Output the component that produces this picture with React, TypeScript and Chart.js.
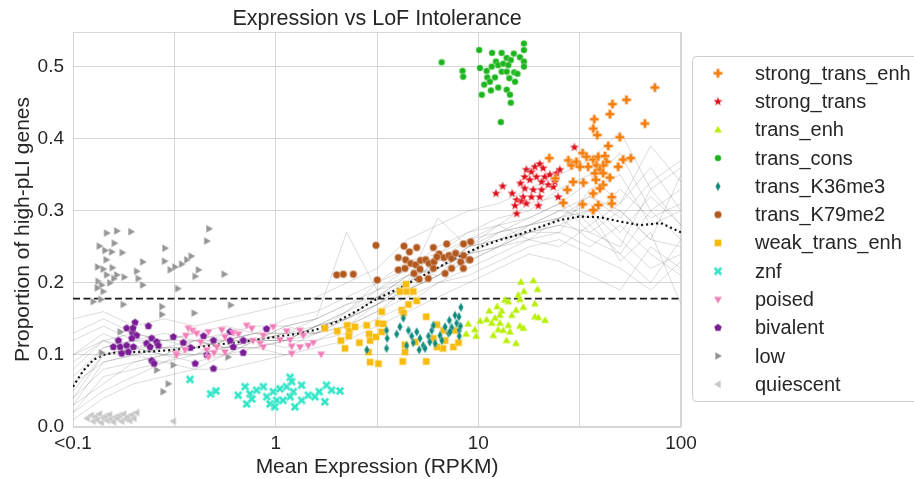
import React, { useEffect, useRef } from "react";
import { Chart, registerables } from "chart.js";
Chart.register(...registerables);

const FONT = '"Liberation Sans", Arial, Helvetica, sans-serif';
const TEXT = "#262626";
const GRID = "#d6d6d6";

const titleText = "Expression vs LoF Intolerance";
const xTitle = "Mean Expression (RPKM)";
const yTitle = "Proportion of high-pLI genes";

// x axis is log10(RPKM)
const xTickValues = [-1, 0, 1, 2];
const xTickLabels = ["<0.1", "1", "10", "100"];

const categories = [
  "strong_trans_enh", "strong_trans", "trans_enh", "trans_cons", "trans_K36me3", "trans_K79me2",
  "weak_trans_enh", "znf", "poised", "bivalent", "low", "quiescent",
];
const colors = [
  "#f47d0c", "#e0101c", "#b7ef00", "#1cb41c", "#108a7c", "#b0581e",
  "#f6bb0c", "#35e5c8", "#f27db6", "#7a1c95", "#959595", "#c6c6c6",
];
const shapes = [
  "plus", "star", "triUp", "circleS", "diamond", "circle",
  "square", "x", "triDown", "pentagon", "triRight", "triLeft",
];

const strongTransEnh: [number, number][] = [
  [1.871, 0.471], [1.731, 0.454], [1.662, 0.448], [1.649, 0.434], [1.572, 0.427], [1.567, 0.414],
  [1.587, 0.405], [1.822, 0.421], [1.698, 0.402], [1.641, 0.390], [1.350, 0.373], [1.444, 0.370],
  [1.460, 0.363], [1.484, 0.368], [1.514, 0.380], [1.534, 0.375], [1.567, 0.371], [1.592, 0.375],
  [1.625, 0.376], [1.633, 0.368], [1.616, 0.363], [1.583, 0.363], [1.542, 0.361], [1.501, 0.361],
  [1.715, 0.371], [1.752, 0.373], [1.690, 0.361], [1.600, 0.357], [1.575, 0.352], [1.616, 0.352],
  [1.649, 0.346], [1.580, 0.343], [1.616, 0.336], [1.468, 0.340], [1.518, 0.339], [1.439, 0.329],
  [1.567, 0.324], [1.600, 0.331], [1.658, 0.319], [1.658, 0.310], [1.419, 0.311], [1.514, 0.309],
  [1.567, 0.301], [1.592, 0.308], [1.380, 0.345],
];
const strongTrans: [number, number][] = [
  [1.474, 0.388], [1.087, 0.324], [1.120, 0.334], [1.167, 0.324], [1.189, 0.315], [1.181, 0.307],
  [1.189, 0.296], [1.208, 0.338], [1.229, 0.347], [1.237, 0.357], [1.262, 0.354], [1.279, 0.361],
  [1.303, 0.365], [1.320, 0.359], [1.287, 0.347], [1.328, 0.347], [1.254, 0.343], [1.312, 0.340],
  [1.345, 0.336], [1.370, 0.333], [1.353, 0.350], [1.386, 0.352], [1.402, 0.357], [1.229, 0.331],
  [1.271, 0.329], [1.312, 0.329], [1.221, 0.319], [1.262, 0.319], [1.303, 0.319], [1.213, 0.313],
  [1.237, 0.310], [1.296, 0.307], [1.394, 0.319], [1.378, 0.340],
];
const transEnh: [number, number][] = [
  [1.210, 0.201], [1.271, 0.203], [1.292, 0.191], [1.225, 0.188], [1.197, 0.183], [1.131, 0.176],
  [1.148, 0.174], [1.205, 0.177], [1.279, 0.171], [1.093, 0.167], [1.054, 0.161], [1.115, 0.161],
  [1.186, 0.162], [1.222, 0.166], [1.165, 0.155], [1.107, 0.155], [1.082, 0.151], [1.041, 0.149],
  [1.009, 0.147], [1.066, 0.144], [1.107, 0.144], [1.148, 0.141], [1.205, 0.140], [1.222, 0.137],
  [1.279, 0.153], [1.296, 0.152], [1.329, 0.148], [0.950, 0.143], [0.983, 0.135], [1.098, 0.135],
  [1.123, 0.134], [1.156, 0.132], [0.940, 0.129], [0.989, 0.126], [1.139, 0.120], [1.186, 0.116],
  [1.074, 0.127],
];
const transCons: [number, number][] = [
  [0.819, 0.506], [0.922, 0.494], [0.925, 0.486], [1.004, 0.523], [1.068, 0.519], [1.115, 0.519],
  [1.175, 0.518], [1.225, 0.532], [1.225, 0.523], [1.205, 0.513], [1.225, 0.507], [1.225, 0.500],
  [1.008, 0.498], [1.041, 0.494], [1.066, 0.500], [1.087, 0.507], [1.098, 0.502], [1.123, 0.504],
  [1.140, 0.512], [1.160, 0.509], [1.148, 0.502], [1.115, 0.493], [1.140, 0.493], [1.177, 0.492],
  [1.193, 0.490], [1.044, 0.485], [1.082, 0.485], [1.153, 0.484], [1.181, 0.479], [1.057, 0.479],
  [1.029, 0.475], [1.098, 0.471], [1.062, 0.467], [1.140, 0.468], [1.017, 0.461], [1.156, 0.461],
  [1.160, 0.450], [1.111, 0.423],
];
const transK36me3: [number, number][] = [
  [0.547, 0.134], [0.550, 0.123], [0.597, 0.129], [0.613, 0.139], [0.630, 0.151], [0.655, 0.134],
  [0.671, 0.126], [0.679, 0.117], [0.696, 0.132], [0.712, 0.123], [0.728, 0.113], [0.737, 0.109],
  [0.754, 0.126], [0.770, 0.134], [0.778, 0.141], [0.787, 0.116], [0.811, 0.127], [0.836, 0.139],
  [0.853, 0.130], [0.857, 0.148], [0.885, 0.155], [0.893, 0.144], [0.906, 0.134], [0.914, 0.166],
  [0.646, 0.113], [0.708, 0.107], [0.547, 0.109], [0.450, 0.107], [0.904, 0.153], [0.912, 0.140],
  [0.868, 0.138], [0.860, 0.132], [0.906, 0.126], [0.820, 0.120], [0.760, 0.118],
];
const transK79me2: [number, number][] = [
  [0.301, 0.211], [0.334, 0.212], [0.383, 0.212], [0.495, 0.252], [0.501, 0.204], [0.633, 0.251],
  [0.696, 0.249], [0.778, 0.249], [0.844, 0.254], [0.927, 0.254], [0.962, 0.257], [0.605, 0.235],
  [0.641, 0.232], [0.666, 0.227], [0.691, 0.225], [0.715, 0.231], [0.740, 0.232], [0.756, 0.227],
  [0.781, 0.229], [0.806, 0.240], [0.830, 0.235], [0.855, 0.238], [0.868, 0.234], [0.888, 0.241],
  [0.913, 0.229], [0.954, 0.232], [0.605, 0.218], [0.638, 0.220], [0.682, 0.213], [0.708, 0.205],
  [0.753, 0.206], [0.712, 0.219], [0.778, 0.220], [0.836, 0.213], [0.868, 0.220], [0.795, 0.236],
  [0.927, 0.238], [0.959, 0.232], [0.926, 0.220], [0.660, 0.243],
];
const weakTransEnh: [number, number][] = [
  [0.243, 0.137], [0.304, 0.133], [0.322, 0.120], [0.342, 0.109], [0.353, 0.141], [0.363, 0.133],
  [0.391, 0.139], [0.413, 0.117], [0.449, 0.141], [0.461, 0.129], [0.466, 0.120], [0.458, 0.104],
  [0.466, 0.090], [0.495, 0.125], [0.507, 0.088], [0.507, 0.144], [0.531, 0.143], [0.523, 0.160],
  [0.523, 0.132], [0.622, 0.162], [0.631, 0.158], [0.655, 0.170], [0.696, 0.175], [0.613, 0.188],
  [0.646, 0.188], [0.679, 0.188], [0.643, 0.198], [0.743, 0.153], [0.627, 0.091], [0.743, 0.091],
  [0.638, 0.114], [0.688, 0.118], [0.778, 0.123], [0.828, 0.134], [0.836, 0.120], [0.825, 0.109],
  [0.795, 0.111], [0.877, 0.111], [0.902, 0.117], [0.795, 0.142], [0.884, 0.134], [0.638, 0.104],
  [0.360, 0.126],
];
const znf: [number, number][] = [
  [-0.423, 0.066], [-0.321, 0.046], [-0.295, 0.050], [-0.185, 0.044], [-0.151, 0.056], [-0.143, 0.032],
  [-0.127, 0.046], [-0.118, 0.039], [-0.061, 0.056], [-0.044, 0.042], [-0.028, 0.032], [-0.012, 0.049],
  [0.005, 0.037], [0.021, 0.053], [0.054, 0.056], [0.071, 0.069], [0.079, 0.063], [0.087, 0.049],
  [0.095, 0.028], [0.071, 0.042], [0.128, 0.037], [0.128, 0.058], [0.161, 0.044], [0.194, 0.042],
  [0.215, 0.049], [0.243, 0.035], [0.251, 0.058], [0.276, 0.051], [0.317, 0.050], [-0.094, 0.051],
  [-0.005, 0.028], [0.036, 0.037],
];
const poised: [number, number][] = [
  [-0.431, 0.137], [-0.410, 0.134], [-0.443, 0.127], [-0.390, 0.130], [-0.332, 0.132], [-0.266, 0.135],
  [-0.250, 0.125], [-0.209, 0.131], [-0.184, 0.129], [-0.143, 0.141], [-0.118, 0.137], [-0.492, 0.102],
  [-0.447, 0.107], [-0.340, 0.107], [-0.304, 0.103], [-0.250, 0.104], [-0.332, 0.097], [-0.291, 0.111],
  [-0.077, 0.116], [-0.061, 0.111], [-0.012, 0.139], [-0.061, 0.127], [0.021, 0.121], [0.071, 0.121],
  [0.120, 0.134], [0.136, 0.127], [0.079, 0.112], [0.120, 0.111], [0.079, 0.102], [0.161, 0.113],
  [0.186, 0.117], [0.224, 0.101], [-0.112, 0.120], [0.054, 0.133], [-0.489, 0.100], [-0.370, 0.118],
];
const bivalent: [number, number][] = [
  [-0.694, 0.145], [-0.735, 0.137], [-0.628, 0.140], [-0.707, 0.131], [-0.686, 0.127], [-0.776, 0.120],
  [-0.710, 0.123], [-0.801, 0.111], [-0.767, 0.111], [-0.735, 0.113], [-0.702, 0.111], [-0.760, 0.102],
  [-0.727, 0.104], [-0.637, 0.116], [-0.612, 0.123], [-0.587, 0.118], [-0.620, 0.111], [-0.579, 0.113],
  [-0.612, 0.092], [-0.505, 0.125], [-0.456, 0.117], [-0.397, 0.088], [-0.356, 0.126], [-0.340, 0.100],
  [-0.307, 0.081], [-0.307, 0.120], [-0.225, 0.132], [-0.209, 0.111], [-0.160, 0.103], [-0.160, 0.120],
  [-0.045, 0.136], [-0.225, 0.120], [-0.704, 0.137], [-0.600, 0.088], [-0.420, 0.110],
];
const low: [number, number][] = [
  [-0.834, 0.269], [-0.784, 0.272], [-0.714, 0.271], [-0.870, 0.251], [-0.842, 0.245], [-0.796, 0.255],
  [-0.809, 0.243], [-0.757, 0.242], [-0.836, 0.232], [-0.878, 0.222], [-0.851, 0.219], [-0.806, 0.221],
  [-0.834, 0.211], [-0.784, 0.211], [-0.747, 0.208], [-0.798, 0.206], [-0.876, 0.202], [-0.818, 0.200],
  [-0.859, 0.197], [-0.880, 0.193], [-0.851, 0.188], [-0.900, 0.174], [-0.862, 0.177], [-0.656, 0.229],
  [-0.686, 0.216], [-0.678, 0.206], [-0.656, 0.197], [-0.546, 0.248], [-0.548, 0.230], [-0.520, 0.218],
  [-0.497, 0.222], [-0.464, 0.226], [-0.438, 0.232], [-0.417, 0.237], [-0.397, 0.209], [-0.381, 0.218],
  [-0.254, 0.212], [-0.329, 0.275], [-0.340, 0.258], [-0.483, 0.192], [-0.561, 0.167], [-0.561, 0.156],
  [-0.752, 0.170], [-0.402, 0.158], [-0.222, 0.169], [-0.767, 0.132], [-0.859, 0.103], [-0.587, 0.079],
  [-0.505, 0.086], [-0.530, 0.060], [-0.555, 0.049], [-0.235, 0.097],
];
const quiescent: [number, number][] = [
  [-0.93, 0.012], [-0.91, 0.016], [-0.90, 0.008], [-0.89, 0.014], [-0.88, 0.010], [-0.87, 0.018],
  [-0.86, 0.006], [-0.85, 0.013], [-0.84, 0.015], [-0.83, 0.009], [-0.82, 0.017], [-0.81, 0.011],
  [-0.80, 0.007], [-0.79, 0.014], [-0.78, 0.012], [-0.77, 0.016], [-0.76, 0.008], [-0.75, 0.018],
  [-0.74, 0.011], [-0.73, 0.014], [-0.72, 0.009], [-0.71, 0.017], [-0.70, 0.012], [-0.686, 0.020],
  [-0.505, 0.008],
];

const seriesPoints = [
  strongTransEnh, strongTrans, transEnh, transCons, transK36me3, transK79me2,
  weakTransEnh, znf, poised, bivalent, low, quiescent,
];

const threshold = 0.178;

const meanX = [-1, -0.95, -0.9, -0.85, -0.8, -0.7, -0.6, -0.5, -0.4, -0.3, -0.2, -0.1, 0, 0.1, 0.2, 0.3, 0.4, 0.5,
  0.6, 0.7, 0.8, 0.9, 1.0, 1.1, 1.2, 1.3, 1.4, 1.5, 1.6, 1.7, 1.8, 1.9, 2.0];
const meanY = [0.056, 0.078, 0.093, 0.100, 0.103, 0.104, 0.105, 0.107, 0.110, 0.114, 0.117, 0.121, 0.125, 0.129,
  0.135, 0.146, 0.161, 0.178, 0.191, 0.206, 0.221, 0.236, 0.249, 0.259, 0.267, 0.277, 0.287, 0.292, 0.291, 0.285,
  0.280, 0.283, 0.270];

const bgX = [-1, -0.85, -0.7, -0.55, -0.4, -0.25, -0.1, 0.05, 0.2, 0.35, 0.5, 0.65, 0.8, 0.95, 1.1, 1.25, 1.4, 1.55, 1.7, 1.85, 2.0];
const bgLines: number[][] = [
  [0.03, 0.09, 0.10, 0.09, 0.11, 0.10, 0.12, 0.11, 0.13, 0.14, 0.17, 0.19, 0.21, 0.24, 0.25, 0.27, 0.28, 0.27, 0.30, 0.26, 0.25],
  [0.08, 0.12, 0.13, 0.12, 0.13, 0.14, 0.13, 0.15, 0.16, 0.18, 0.20, 0.23, 0.24, 0.27, 0.29, 0.30, 0.33, 0.35, 0.31, 0.36, 0.30],
  [0.02, 0.07, 0.08, 0.09, 0.08, 0.10, 0.11, 0.10, 0.12, 0.13, 0.15, 0.17, 0.20, 0.21, 0.23, 0.25, 0.26, 0.24, 0.22, 0.19, 0.23],
  [0.12, 0.14, 0.12, 0.13, 0.12, 0.13, 0.14, 0.14, 0.15, 0.17, 0.19, 0.21, 0.24, 0.26, 0.28, 0.29, 0.31, 0.34, 0.38, 0.30, 0.33],
  [0.05, 0.10, 0.11, 0.10, 0.12, 0.11, 0.12, 0.13, 0.13, 0.15, 0.18, 0.20, 0.22, 0.25, 0.27, 0.28, 0.29, 0.31, 0.27, 0.32, 0.28],
  [0.04, 0.08, 0.09, 0.10, 0.10, 0.11, 0.11, 0.12, 0.14, 0.15, 0.17, 0.19, 0.21, 0.23, 0.25, 0.26, 0.27, 0.25, 0.28, 0.24, 0.21],
  [0.10, 0.13, 0.11, 0.12, 0.13, 0.12, 0.13, 0.12, 0.14, 0.16, 0.19, 0.20, 0.29, 0.25, 0.26, 0.28, 0.30, 0.32, 0.29, 0.34, 0.37],
  [0.03, 0.06, 0.09, 0.10, 0.09, 0.10, 0.12, 0.12, 0.13, 0.14, 0.16, 0.18, 0.20, 0.22, 0.24, 0.26, 0.25, 0.28, 0.24, 0.20, 0.26],
  [0.07, 0.11, 0.12, 0.11, 0.11, 0.12, 0.13, 0.13, 0.14, 0.16, 0.18, 0.21, 0.22, 0.24, 0.27, 0.28, 0.30, 0.29, 0.33, 0.29, 0.31],
  [0.06, 0.09, 0.10, 0.11, 0.11, 0.12, 0.12, 0.13, 0.13, 0.15, 0.17, 0.20, 0.23, 0.24, 0.26, 0.27, 0.29, 0.30, 0.26, 0.22, 0.24],
  [0.13, 0.15, 0.13, 0.12, 0.12, 0.11, 0.12, 0.14, 0.15, 0.27, 0.19, 0.22, 0.25, 0.27, 0.28, 0.31, 0.32, 0.28, 0.31, 0.39, 0.34],
  [0.02, 0.05, 0.07, 0.09, 0.10, 0.11, 0.11, 0.12, 0.12, 0.14, 0.16, 0.19, 0.21, 0.23, 0.25, 0.27, 0.28, 0.30, 0.23, 0.27, 0.17],
  [0.09, 0.12, 0.11, 0.10, 0.12, 0.12, 0.13, 0.13, 0.15, 0.17, 0.18, 0.21, 0.22, 0.25, 0.26, 0.27, 0.27, 0.33, 0.35, 0.28, 0.30],
  [0.04, 0.10, 0.11, 0.11, 0.10, 0.12, 0.12, 0.12, 0.14, 0.15, 0.18, 0.19, 0.22, 0.24, 0.25, 0.28, 0.29, 0.26, 0.24, 0.30, 0.26],
  [0.15, 0.16, 0.14, 0.15, 0.14, 0.15, 0.16, 0.17, 0.18, 0.20, 0.22, 0.26, 0.28, 0.30, 0.31, 0.33, 0.35, 0.37, 0.41, 0.33, 0.36],
  [0.01, 0.04, 0.06, 0.07, 0.08, 0.08, 0.09, 0.10, 0.11, 0.12, 0.14, 0.16, 0.18, 0.20, 0.22, 0.24, 0.23, 0.21, 0.19, 0.25, 0.22],
  [0.06, 0.11, 0.12, 0.12, 0.11, 0.13, 0.12, 0.14, 0.13, 0.16, 0.20, 0.22, 0.21, 0.25, 0.28, 0.26, 0.29, 0.32, 0.30, 0.26, 0.35],
  [0.10, 0.12, 0.10, 0.11, 0.12, 0.11, 0.12, 0.12, 0.14, 0.15, 0.17, 0.20, 0.23, 0.26, 0.27, 0.29, 0.31, 0.27, 0.25, 0.33, 0.28],
];

function makeMarker(shape: string, color: string): HTMLCanvasElement {
  const S = 16;
  const c = document.createElement("canvas");
  c.width = S;
  c.height = S;
  const g = c.getContext("2d")!;
  g.translate(S / 2, S / 2);
  g.fillStyle = color;
  g.strokeStyle = "rgba(255,255,255,0.8)";
  g.lineWidth = 0.4;
  g.beginPath();
  const poly = (pts: number[][]) => {
    pts.forEach((p, i) => (i ? g.lineTo(p[0], p[1]) : g.moveTo(p[0], p[1])));
    g.closePath();
  };
  const plusPts = (a: number, w: number) => [
    [-w, -a], [w, -a], [w, -w], [a, -w], [a, w], [w, w], [w, a], [-w, a], [-w, w], [-a, w], [-a, -w], [-w, -w],
  ];
  switch (shape) {
    case "circle": g.arc(0, 0, 3.7, 0, Math.PI * 2); break;
    case "circleS": g.arc(0, 0, 3.3, 0, Math.PI * 2); break;
    case "square": g.rect(-3.5, -3.5, 7, 7); break;
    case "triUp": poly([[0, -4.3], [4.1, 2.8], [-4.1, 2.8]]); break;
    case "triDown": poly([[0, 4.3], [4.1, -2.8], [-4.1, -2.8]]); break;
    case "triRight": poly([[4.3, 0], [-2.8, 4.1], [-2.8, -4.1]]); break;
    case "triLeft": poly([[-4.3, 0], [2.8, 4.1], [2.8, -4.1]]); break;
    case "diamond": poly([[0, -4.8], [2.7, 0], [0, 4.8], [-2.7, 0]]); break;
    case "pentagon": {
      const pts: number[][] = [];
      for (let i = 0; i < 5; i++) {
        const a = -Math.PI / 2 + (i * 2 * Math.PI) / 5;
        pts.push([4.1 * Math.cos(a), 4.1 * Math.sin(a)]);
      }
      poly(pts);
      break;
    }
    case "star": {
      const pts: number[][] = [];
      for (let i = 0; i < 10; i++) {
        const a = -Math.PI / 2 + (i * Math.PI) / 5;
        const r = i % 2 ? 2.1 : 5.0;
        pts.push([r * Math.cos(a), r * Math.sin(a)]);
      }
      poly(pts);
      break;
    }
    case "plus": poly(plusPts(4.6, 1.6)); break;
    case "x": g.rotate(Math.PI / 4); poly(plusPts(4.7, 1.5)); break;
  }
  g.fill();
  g.stroke();
  return c;
}

export default function App() {
  const ref = useRef<HTMLCanvasElement | null>(null);

  useEffect(() => {
    if (!ref.current) return;
    const markers = shapes.map((s, i) => makeMarker(s, colors[i]));

    const datasets: any[] = [];
    seriesPoints.forEach((pts, i) => {
      datasets.push({
        type: "scatter",
        label: categories[i],
        data: pts.map(([x, y]) => ({ x, y })),
        pointStyle: markers[i],
        pointRadius: 4,
        pointHoverRadius: 4,
        order: 0,
      });
    });
    bgLines.forEach((line, k) => {
      datasets.push({
        type: "line",
        label: "bg" + k,
        data: bgX.map((x, j) => ({ x, y: line[j] })),
        borderColor: "rgba(135,135,135,0.3)",
        borderWidth: 1,
        pointRadius: 0,
        tension: 0,
        order: 30,
      });
    });
    datasets.push({
      type: "line",
      label: "mean",
      data: meanX.map((x, j) => ({ x, y: meanY[j] })),
      borderColor: "#111111",
      borderWidth: 2.2,
      borderDash: [2, 3],
      pointRadius: 0,
      tension: 0,
      order: 20,
    });
    datasets.push({
      type: "line",
      label: "threshold",
      data: [{ x: -1, y: threshold }, { x: 2, y: threshold }],
      borderColor: "#1a1a1a",
      borderWidth: 1.8,
      borderDash: [7, 3.5],
      pointRadius: 0,
      order: 19,
    });

    const decor = {
      id: "decor",
      beforeDatasetsDraw(chart: any) {
        const { ctx, chartArea: a } = chart;
        ctx.save();
        ctx.strokeStyle = GRID;
        ctx.lineWidth = 1;
        ctx.strokeRect(a.left + 0.5, a.top + 0.5, a.right - a.left - 1, a.bottom - a.top - 1);
        ctx.restore();
      },
      afterDraw(chart: any) {
        const { ctx, chartArea: a } = chart;
        ctx.save();
        ctx.fillStyle = TEXT;
        ctx.textAlign = "center";
        ctx.textBaseline = "alphabetic";
        ctx.font = `21.5px ${FONT}`;
        ctx.fillText(titleText, (a.left + a.right) / 2, 25);
        ctx.font = `21px ${FONT}`;
        ctx.fillText(xTitle, (a.left + a.right) / 2, 473);
        ctx.save();
        ctx.translate(28.5, (a.top + a.bottom) / 2);
        ctx.rotate(-Math.PI / 2);
        ctx.fillText(yTitle, 0, 0);
        ctx.restore();

        // legend
        ctx.beginPath();
        (ctx as any).roundRect(692.5, 56.5, 260, 345, 4);
        ctx.fillStyle = "#ffffff";
        ctx.fill();
        ctx.strokeStyle = "#cccccc";
        ctx.lineWidth = 1;
        ctx.stroke();
        ctx.font = `20px ${FONT}`;
        ctx.textAlign = "left";
        ctx.textBaseline = "middle";
        ctx.fillStyle = TEXT;
        categories.forEach((name, i) => {
          const y = 73.3 + i * 28.27;
          ctx.drawImage(markers[i], 718 - 8, y - 8);
          ctx.fillText(name, 755, y + 1);
        });
        ctx.restore();
      },
    };

    const chart = new Chart(ref.current, {
      type: "scatter",
      data: { datasets },
      options: {
        animation: false,
        responsive: false,
        maintainAspectRatio: false,
        layout: { padding: { top: 32, right: 233, left: 0, bottom: 0 } },
        plugins: {
          legend: { display: false },
          tooltip: { enabled: false },
          title: { display: false },
        },
        scales: {
          x: {
            type: "linear",
            min: -1,
            max: 2,
            afterFit: (s: any) => { s.height = 52; },
            ticks: {
              stepSize: 0.5,
              autoSkip: false,
              maxRotation: 0,
              padding: 5,
              color: TEXT,
              font: { family: FONT, size: 19 },
              callback: (v: any) => {
                const k = xTickValues.findIndex((t) => Math.abs(t - Number(v)) < 1e-6);
                return k >= 0 ? xTickLabels[k] : "";
              },
            },
            grid: { color: GRID, lineWidth: 1, drawTicks: false },
            border: { display: false },
          },
          y: {
            type: "linear",
            min: 0,
            max: 0.548,
            afterFit: (s: any) => { s.width = 73; },
            ticks: {
              stepSize: 0.1,
              includeBounds: false,
              padding: 9,
              color: TEXT,
              font: { family: FONT, size: 19 },
              callback: (v: any) => Number(v).toFixed(1),
            },
            grid: { color: GRID, lineWidth: 1, drawTicks: false },
            border: { display: false },
          },
        },
      } as any,
      plugins: [decor],
    });
    return () => chart.destroy();
  }, []);

  return (
    <div style={{ position: "fixed", left: 0, top: 0, width: 914, height: 479, background: "#fff" }}>
      <canvas ref={ref} width={914} height={479} style={{ width: 914, height: 479, display: "block" }} />
    </div>
  );
}
